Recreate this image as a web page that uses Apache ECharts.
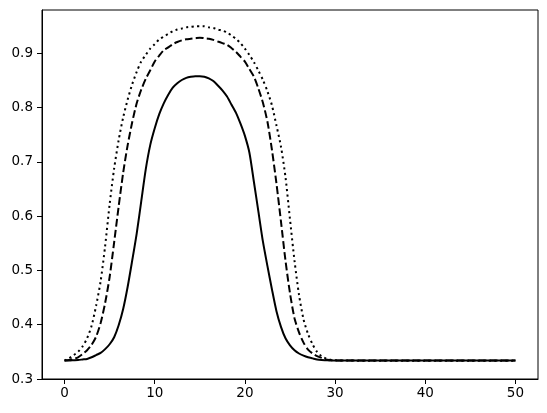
<!DOCTYPE html>
<html>
<head>
<meta charset="utf-8">
<script src="https://cdn.jsdelivr.net/npm/echarts@6/dist/echarts.min.js"></script>
<style>
html,body{margin:0;padding:0;background:#fff;}
#chart{width:547px;height:413px;}
</style>
</head>
<body>
<div id="chart"></div>
<script>
const xValues = [0,0.5,1,1.5,2,2.5,3,3.5,4,4.5,5,5.5,6,6.5,7,7.5,8,8.5,9,9.5,10,10.5,11,11.5,12,12.5,13,13.5,14,14.5,15,15.5,16,16.5,17,17.5,18,18.5,19,19.5,20,20.5,21,21.5,22,22.5,23,23.5,24,24.5,25,25.5,26,26.5,27,27.5,28,28.5,29,29.5,30,35,40,45,50];
const solidValues = [0.334,0.334,0.3345,0.335,0.336,0.337,0.340,0.344,0.348,0.355,0.364,0.377,0.399,0.429,0.470,0.518,0.568,0.627,0.686,0.731,0.762,0.788,0.808,0.824,0.837,0.845,0.851,0.855,0.857,0.858,0.858,0.857,0.854,0.849,0.841,0.832,0.821,0.806,0.791,0.771,0.748,0.717,0.663,0.608,0.553,0.508,0.465,0.425,0.396,0.375,0.362,0.353,0.347,0.343,0.340,0.338,0.336,0.335,0.3345,0.334,0.334,0.334,0.334,0.334,0.334];
const dashedValues = [0.334,0.335,0.337,0.340,0.346,0.353,0.363,0.378,0.403,0.440,0.488,0.552,0.618,0.680,0.731,0.773,0.808,0.833,0.853,0.869,0.885,0.896,0.906,0.911,0.917,0.921,0.924,0.926,0.927,0.928,0.929,0.928,0.927,0.925,0.922,0.919,0.916,0.910,0.903,0.894,0.885,0.871,0.857,0.835,0.809,0.774,0.722,0.660,0.590,0.518,0.458,0.412,0.386,0.367,0.354,0.347,0.342,0.339,0.336,0.335,0.334,0.334,0.334,0.334,0.334];
const dottedValues = [0.334,0.338,0.344,0.350,0.360,0.375,0.398,0.435,0.480,0.545,0.622,0.688,0.740,0.782,0.815,0.843,0.866,0.885,0.897,0.909,0.917,0.926,0.931,0.936,0.941,0.944,0.946,0.948,0.949,0.950,0.950,0.950,0.948,0.947,0.944,0.942,0.939,0.933,0.927,0.919,0.909,0.897,0.884,0.868,0.851,0.830,0.804,0.767,0.728,0.672,0.594,0.518,0.455,0.410,0.383,0.364,0.350,0.342,0.338,0.3355,0.3345,0.3335,0.3335,0.3335,0.3335];
const xTicks = [0,10,20,30,40,50];
const yTicks = [0.3,0.4,0.5,0.6,0.7,0.8,0.9];

function pairs(ys){ return xValues.map((x,i)=>[x, ys[i]]); }

const chart = echarts.init(document.getElementById('chart'), null, {renderer:'canvas'});
const font = 'DejaVu Sans';
const lbl = {color:'#000', fontFamily:font, fontSize:13.5};
const lineSeries = (name, ys, type) => ({
  name, type:'line', data:pairs(ys), showSymbol:false, symbol:'none',
  smooth:0.25,
  lineStyle:{color:'#000', width:2, type:type, cap:'butt'},
  emphasis:{disabled:true}, animation:false
});
chart.setOption({
  animation:false,
  backgroundColor:'#fff',
  grid:{left:42, right:9, top:10, bottom:34, show:true, borderColor:'#000', borderWidth:1, backgroundColor:'transparent'},
  xAxis:{
    type:'value', min:-2.5, max:52.5,
    axisLine:{show:true, onZero:false, lineStyle:{color:'#000', width:1}},
    axisTick:{show:true, inside:false, length:5, lineStyle:{color:'#000', width:1}, customValues:xTicks},
    axisLabel:Object.assign({margin:7, customValues:xTicks, formatter:v=>String(v)}, lbl),
    splitLine:{show:false}
  },
  yAxis:{
    type:'value', min:0.3, max:0.98,
    axisLine:{show:true, onZero:false, lineStyle:{color:'#000', width:1}},
    axisTick:{show:true, inside:false, length:5, lineStyle:{color:'#000', width:1}, customValues:yTicks},
    axisLabel:Object.assign({margin:9, customValues:yTicks, formatter:v=>v.toFixed(1)}, lbl),
    splitLine:{show:false}
  },
  series:[
    lineSeries('solid', solidValues, 'solid'),
    lineSeries('dashed', dashedValues, [7.7,3.3]),
    lineSeries('dotted', dottedValues, [2.1,3.4])
  ]
});
</script>
</body>
</html>
